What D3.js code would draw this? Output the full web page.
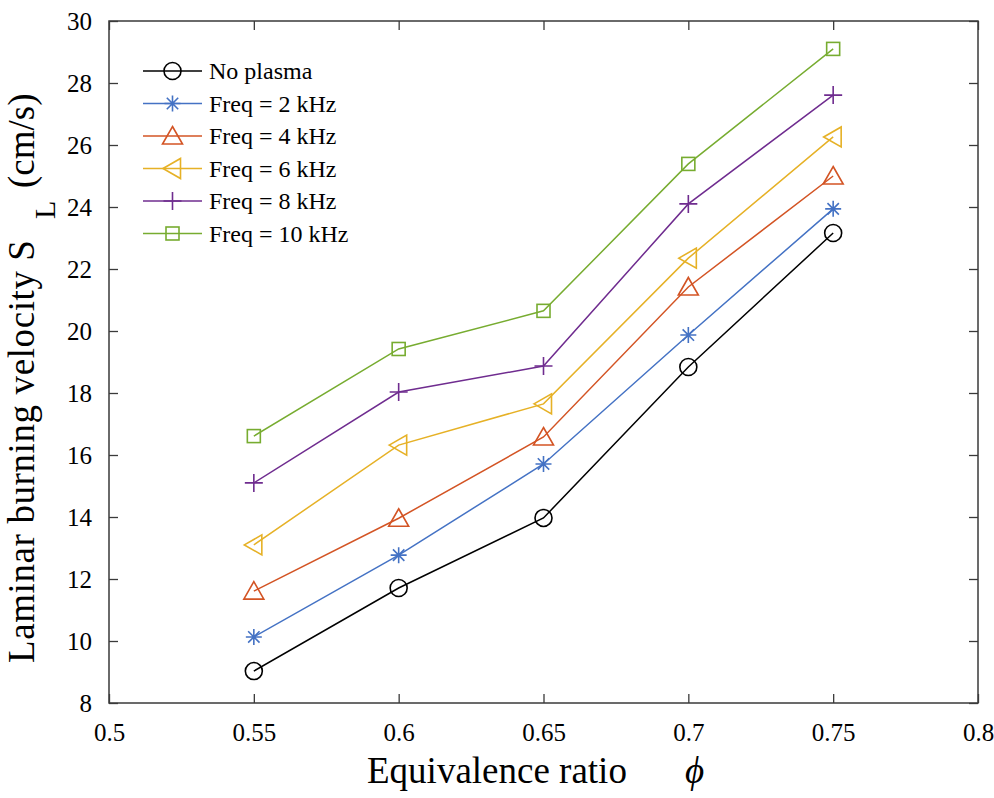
<!DOCTYPE html>
<html lang="en">
<head>
<meta charset="UTF-8">
<title>Laminar burning velocity</title>
<script src="https://d3js.org/d3.v7.min.js"></script>
<style>
  body { margin: 0; background: #fff; }
  text { font-family: "Liberation Serif", "Times New Roman", serif; fill: #000; }
</style>
</head>
<body>
<div id="chart"></div>
<script>
// data
var phi = [0.55, 0.6, 0.65, 0.7, 0.75];
var seriesNames = ["No plasma", "Freq = 2 kHz", "Freq = 4 kHz", "Freq = 6 kHz", "Freq = 8 kHz", "Freq = 10 kHz"];
var noPlasma = [9.03, 11.71, 13.97, 18.84, 23.16];
var freq2 = [10.13, 12.77, 15.71, 19.87, 23.94];
var freq4 = [11.61, 13.96, 16.58, 21.42, 25.0];
var freq6 = [13.1, 16.32, 17.65, 22.35, 26.26];
var freq8 = [15.1, 18.03, 18.87, 24.1, 27.61];
var freq10 = [16.61, 19.42, 20.65, 25.39, 29.1];
var xTicks = [0.5, 0.55, 0.6, 0.65, 0.7, 0.75, 0.8];
var yTicks = [8, 10, 12, 14, 16, 18, 20, 22, 24, 26, 28, 30];

var colors = ["#000000", "#4472C4", "#D35424", "#E6B126", "#6F2C8F", "#77AC30"];
var markers = ["circle", "star", "triUp", "triLeft", "plus", "square"];
var allSeries = [noPlasma, freq2, freq4, freq6, freq8, freq10];

var width = 994, height = 798;
var L = 109, R = 978, T = 21, B = 703;

var svg = d3.select("#chart").append("svg")
    .attr("width", width)
    .attr("height", height);

var x = d3.scaleLinear().domain([0.5, 0.8]).range([L, R]);
var y = d3.scaleLinear().domain([8, 30]).range([B, T]);

var axisColor = "#3a3a3a";
var tickLen = 9;

// box
svg.append("rect")
    .attr("x", L).attr("y", T)
    .attr("width", R - L).attr("height", B - T)
    .attr("fill", "none")
    .attr("stroke", axisColor)
    .attr("stroke-width", 1.5);

// axes with inward ticks (mirrored on top/right)
var xAxis = svg.append("g").attr("transform", "translate(0," + B + ")")
    .call(d3.axisBottom(x).tickValues(xTicks).tickSize(-tickLen).tickPadding(20)
        .tickFormat(function(d) { return String(+d.toFixed(2)); }));
var xTop = svg.append("g").attr("transform", "translate(0," + T + ")")
    .call(d3.axisTop(x).tickValues(xTicks).tickSize(-tickLen).tickFormat(""));
var yAxis = svg.append("g").attr("transform", "translate(" + L + ",0)")
    .call(d3.axisLeft(y).tickValues(yTicks).tickSize(-tickLen).tickPadding(17));
var yRight = svg.append("g").attr("transform", "translate(" + R + ",0)")
    .call(d3.axisRight(y).tickValues(yTicks).tickSize(-tickLen).tickFormat(""));

[xAxis, xTop, yAxis, yRight].forEach(function(g) {
    g.attr("font-family", null);
    g.select(".domain").remove();
    g.selectAll(".tick line").attr("stroke", axisColor).attr("stroke-width", 1.3);
    g.selectAll("text").style("font-family", "'Liberation Serif', serif")
        .style("font-size", "25px").attr("fill", "#000");
});
xAxis.selectAll("text").attr("dy", "0.71em");
yAxis.selectAll("text").attr("dy", "0.35em");

// marker drawing
function drawMarker(g, type, cx, cy, color) {
    var s = g.append("g").attr("transform", "translate(" + cx + "," + cy + ")")
        .attr("fill", "none").attr("stroke", color).attr("stroke-width", 1.6);
    if (type === "circle") {
        s.append("circle").attr("r", 8.5);
    } else if (type === "square") {
        s.append("rect").attr("x", -6.5).attr("y", -6.5).attr("width", 13).attr("height", 13);
    } else if (type === "triUp") {
        s.append("path").attr("d", "M0,-9.5L10,8L-10,8Z");
    } else if (type === "triLeft") {
        s.append("path").attr("d", "M-9.5,0L8,-10L8,10Z");
    } else if (type === "plus") {
        s.append("path").attr("d", "M-9,0H9M0,-9V9");
    } else if (type === "star") {
        s.append("path").attr("d", "M-8,0H8M0,-8V8M-5.7,-5.7L5.7,5.7M-5.7,5.7L5.7,-5.7");
    }
}

var line = d3.line()
    .x(function(d, i) { return x(phi[i]); })
    .y(function(d) { return y(d); });

allSeries.forEach(function(vals, k) {
    svg.append("path")
        .datum(vals)
        .attr("d", line)
        .attr("fill", "none")
        .attr("stroke", colors[k])
        .attr("stroke-width", 1.5);
    vals.forEach(function(v, i) {
        drawMarker(svg, markers[k], x(phi[i]), y(v), colors[k]);
    });
});

// legend
var legend = svg.append("g");
seriesNames.forEach(function(name, k) {
    var ly = 71 + k * 32.5;
    legend.append("line")
        .attr("x1", 143).attr("x2", 202)
        .attr("y1", ly).attr("y2", ly)
        .attr("stroke", colors[k]).attr("stroke-width", 1.5);
    drawMarker(legend, markers[k], 172.5, ly, colors[k]);
    legend.append("text")
        .attr("x", 209).attr("y", ly)
        .attr("dy", "0.35em")
        .style("font-size", "24px")
        .text(name);
});

// axis labels
svg.append("text")
    .attr("x", 367).attr("y", 783)
    .style("font-size", "37px")
    .text("Equivalence ratio");
svg.append("text")
    .attr("x", 685).attr("y", 783)
    .style("font-size", "37px")
    .style("font-style", "italic")
    .text("\u03D5");

svg.append("text")
    .attr("transform", "translate(34,663) rotate(-90)")
    .style("font-size", "37px")
    .style("letter-spacing", "0.6px")
    .text("Laminar burning velocity S");
svg.append("text")
    .attr("transform", "translate(55,219) rotate(-90)")
    .style("font-size", "30px")
    .text("L");
svg.append("text")
    .attr("transform", "translate(34,188) rotate(-90)")
    .style("font-size", "37px")
    .text("(cm/s)");
</script>
</body>
</html>
